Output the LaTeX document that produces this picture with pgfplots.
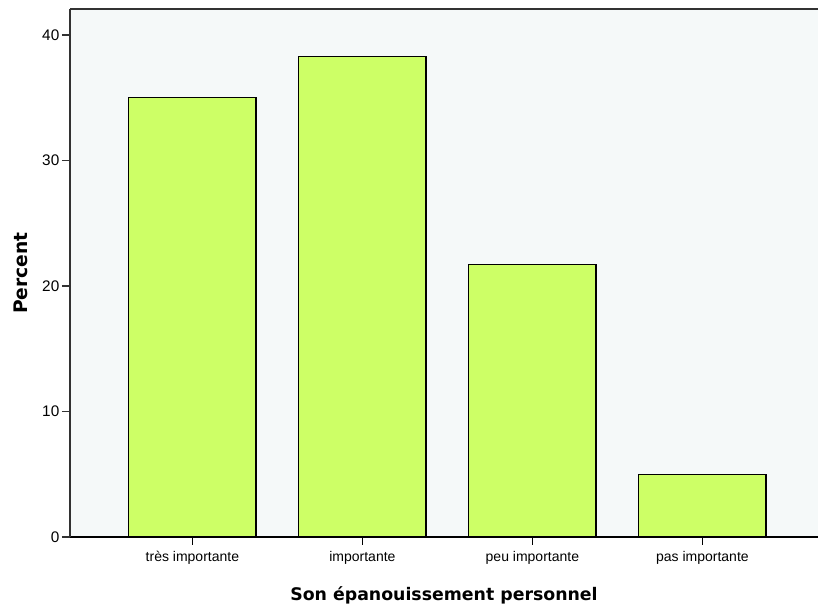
\documentclass[border=0pt]{standalone}
\usepackage{fontspec}
\setmainfont{Liberation Sans}
\newfontfamily\titlefont{DejaVu Sans}
\usepackage{pgfplots}
\pgfplotsset{compat=1.18}
\usetikzlibrary{calc}
\definecolor{barcol}{RGB}{205,255,102}
\definecolor{bgcol}{RGB}{245,249,249}
\definecolor{axcol}{RGB}{50,50,50}
\begin{document}
\begin{tikzpicture}
\begin{axis}[
  name=ax,
  scale only axis,
  width=561pt, height=396pt,
  xmin=-0.72, xmax=3.68,
  ymin=0, ymax=42.07,
  axis x line*=bottom, axis y line*=left,
  x axis line style={black, line width=1.6pt},
  y axis line style={axcol, line width=1.3pt},
  axis background/.style={fill=bgcol},
  xtick={0,1,2,3},
  xticklabels={très importante, importante, peu importante, pas importante},
  ytick={0,10,20,30,40},
  tick align=outside,
  major tick length=6pt,
  tick style={axcol, line width=1pt},
  xtick style={black},
  ticklabel style={font=\fontsize{10.5}{12}\selectfont, text=black},
  /pgf/number format/assume math mode=true,
  xticklabel style={yshift=-1pt},
  yticklabel style={xshift=1.5pt, font=\fontsize{11.5}{13}\selectfont},
  xlabel={\titlefont\bfseries\fontsize{13}{15}\selectfont Son épanouissement personnel},
  ylabel={\titlefont\bfseries\fontsize{14}{16}\selectfont Percent},
  xlabel style={at={(axis description cs:0.5,-0.11)}, anchor=center},
  ylabel style={at={(axis description cs:-0.066,0.5)}, anchor=center},
  ybar, bar width=0.75,
  clip=false,
]
\addplot[fill=barcol, draw=black, line width=1pt] coordinates {(0,35.0) (1,38.3) (2,21.7) (3,5.0)};
\draw[axcol, line width=1.3pt] (rel axis cs:0,1) -- (rel axis cs:1,1);
\end{axis}
\pgfresetboundingbox
\path[use as bounding box] ($(ax.south west)+(-52.5pt,-56.25pt)$) rectangle ($(ax.north east)+(0,6.75pt)$);
\end{tikzpicture}
\end{document}
